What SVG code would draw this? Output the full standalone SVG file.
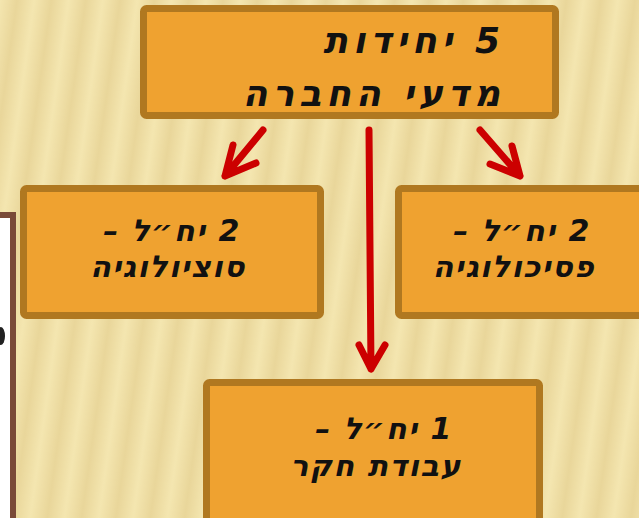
<svg xmlns="http://www.w3.org/2000/svg" width="639" height="518" viewBox="0 0 639 518">
<defs>
<linearGradient id="sg" x1="0" y1="0" x2="1" y2="0">
<stop offset="0" stop-color="#F4E6B0"/>
<stop offset="0.5" stop-color="#E9D69A"/>
<stop offset="1" stop-color="#F4E6B0"/>
</linearGradient>
<pattern id="stripes" width="34" height="40" patternUnits="userSpaceOnUse" patternTransform="rotate(8)">
<rect width="34" height="40" fill="url(#sg)"/>
</pattern>
<style>
.box{fill:#EFA230;stroke:#B07820;stroke-width:7}
.t{font-family:"DejaVu Sans",sans-serif;font-weight:bold;font-style:italic;font-size:30px;letter-spacing:1.5px;fill:#111;direction:rtl}
.big{font-size:36px;letter-spacing:5px}
.c{text-anchor:middle}
.r{text-anchor:start}
.arr{stroke:#CC0000;stroke-width:7;fill:none;stroke-linecap:round;stroke-linejoin:round}
</style>
</defs>
<rect width="639" height="518" fill="#F2E2A8"/>
<rect width="639" height="518" fill="url(#stripes)"/>

<g id="side-panel">
<rect x="-20" y="215" width="33" height="320" fill="#FFFFFF" stroke="#7A4A38" stroke-width="6"/>
<ellipse cx="1" cy="336" rx="4" ry="9" fill="#222"/>
</g>

<g id="connectors">
<path class="arr" d="M263,130 L225,176 M233,145 L225,176 L256,163"/>
<path class="arr" d="M369,130 L371,369 M359,345 L371,369 L385,345"/>
<path class="arr" d="M480,130 L520,176 M512,146 L520,176 L490,164"/>
</g>

<g id="top">
<rect class="box" x="143.5" y="8.5" width="412" height="107" rx="3"/>
<text class="t big r" x="505" y="53">5 יחידות</text>
<text class="t big r" x="505" y="106">מדעי החברה</text>
</g>

<g id="left">
<rect class="box" x="23.5" y="188.5" width="297" height="127" rx="3"/>
<text class="t c" x="172" y="241">2 יח״ל –</text>
<text class="t c" x="168" y="277">סוציולוגיה</text>
</g>

<g id="right">
<rect class="box" x="398.5" y="188.5" width="250" height="127" rx="3"/>
<text class="t c" x="522" y="241">2 יח״ל –</text>
<text class="t c" x="514" y="277">פסיכולוגיה</text>
</g>

<g id="bottom">
<rect class="box" x="206.5" y="382.5" width="333" height="150" rx="3"/>
<text class="t c" x="384" y="439">1 יח״ל –</text>
<text class="t c" x="376" y="476">עבודת חקר</text>
</g>
</svg>
